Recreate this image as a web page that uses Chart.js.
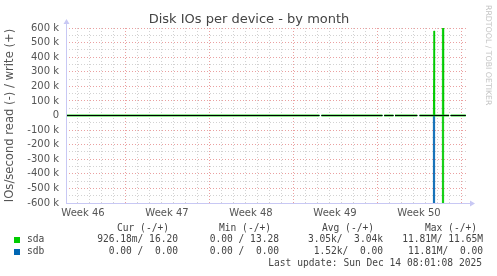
<!DOCTYPE html>
<html>
<head>
<meta charset="utf-8">
<script src="https://cdn.jsdelivr.net/npm/chart.js@4"></script>
<style>
  html, body { margin: 0; padding: 0; background: #fff; }
  #wrap { width: 497px; height: 276px; }
</style>
</head>
<body>
<div id="wrap"><canvas id="chart" width="497" height="276"></canvas></div>
<script>
// x = days since Mon Nov 10 2025 00:00 (start of week 46)
const days     = [2.1, 23.2, 23.29, 23.37, 28.45, 28.52, 28.6, 29.37, 29.44, 29.5, 31.35, 31.44, 31.55, 32.7, 32.75, 32.8, 33.45, 33.5, 33.55, 34.0, 34.07, 34.14, 35.4];
const sdaRead  = [3000, 3000, null, 3000, 3000, null, 3000, 3000, null, 3000, 3000, null, 3000, 3000, 0, 3000, 3000, 11810000, 3000, 3000, null, 3000, 3000];
const sdaWrite = [3000, 3000, null, 3000, 3000, null, 3000, 3000, null, 3000, 3000, null, 3000, 3000, 580000, 3000, 3000, 11650000, 3000, 3000, null, 3000, 3000];
const sdbRead  = [0, 0, null, 0, 0, null, 0, 0, null, 0, 0, null, 0, 0, 11810000, 0, 0, 0, 0, 0, null, 0, 0];
const sdbWrite = [0, 0, null, 0, 0, null, 0, 0, null, 0, 0, null, 0, 0, 0, 0, 0, 0, 0, 0, null, 0, 0];

const weekLabels = ['Week 46', 'Week 47', 'Week 48', 'Week 49', 'Week 50'];
const weekMid    = [3.5, 10.5, 17.5, 24.5, 31.5];

const legendHead = ['Cur (-/+)', 'Min (-/+)', 'Avg (-/+)', 'Max (-/+)'];
const legendRows = [
  { name: 'sda', color: '#00cc00', cells: ['926.18m/ 16.20', '0.00 / 13.28', '3.05k/  3.04k', '11.81M/ 11.65M'] },
  { name: 'sdb', color: '#0066b3', cells: ['0.00 /  0.00', '0.00 /  0.00', '1.52k/  0.00', '11.81M/  0.00'] }
];
const lastUpdate = 'Last update: Sun Dec 14 08:01:08 2025';

const GREEN = '#00cc00';
const BLUE = '#0066b3';
const MAJOR = 'rgba(225,120,120,0.7)';
const MINOR = 'rgba(195,195,195,0.75)';
const AXIS = '#c8c8f4';

function pts(arr, sign) {
  return days.map((d, i) => ({ x: d, y: arr[i] === null ? null : sign * arr[i] }));
}

// daily grid positions + week label positions
const xTicks = [];
for (let d = 3; d <= 35; d++) xTicks.push(d);
weekMid.forEach(v => xTicks.push(v));
xTicks.sort((a, b) => a - b);

const decor = {
  id: 'decor',
  afterDatasetsDraw(chart) {
    const { ctx, chartArea: a, scales } = chart;
    const y0 = Math.round(scales.y.getPixelForValue(0)) - 0.5;
    ctx.save();
    // black zero rule, broken where data is missing
    ctx.strokeStyle = '#000';
    ctx.lineWidth = 1;
    ctx.beginPath();
    for (let i = 0; i < days.length - 1; i++) {
      if (sdaWrite[i] === null || sdaWrite[i + 1] === null) continue;
      ctx.moveTo(scales.x.getPixelForValue(days[i]), y0);
      ctx.lineTo(scales.x.getPixelForValue(days[i + 1]), y0);
    }
    ctx.stroke();
    // axes with arrows
    ctx.strokeStyle = AXIS;
    ctx.fillStyle = AXIS;
    ctx.beginPath();
    ctx.moveTo(a.left + 0.5, a.bottom + 0.5);
    ctx.lineTo(a.left + 0.5, a.top - 6);
    ctx.moveTo(a.left, a.bottom + 0.5);
    ctx.lineTo(a.right + 4, a.bottom + 0.5);
    ctx.stroke();
    ctx.beginPath();
    ctx.moveTo(a.left - 2.5, a.top - 4);
    ctx.lineTo(a.left + 3.5, a.top - 4);
    ctx.lineTo(a.left + 0.5, a.top - 9);
    ctx.fill();
    ctx.beginPath();
    ctx.moveTo(a.right + 3, a.bottom - 2.5);
    ctx.lineTo(a.right + 3, a.bottom + 3.5);
    ctx.lineTo(a.right + 8, a.bottom + 0.5);
    ctx.fill();
    ctx.restore();
  },
  afterDraw(chart) {
    const ctx = chart.ctx;
    ctx.save();
    // title
    ctx.fillStyle = '#444';
    ctx.font = '13px "DejaVu Sans"';
    ctx.textAlign = 'center';
    ctx.textBaseline = 'alphabetic';
    ctx.fillText('Disk IOs per device - by month', 249, 23);
    // side credit
    ctx.save();
    ctx.translate(488, 5);
    ctx.rotate(Math.PI / 2);
    ctx.fillStyle = '#c4c4c4';
    ctx.font = '7.8px "DejaVu Sans"';
    ctx.textAlign = 'left';
    ctx.textBaseline = 'middle';
    ctx.fillText('RRDTOOL / TOBI OETIKER', 0, 0);
    ctx.restore();
    // legend
    ctx.font = '9.6px "DejaVu Sans Mono"';
    ctx.fillStyle = '#444';
    ctx.textAlign = 'right';
    const rights = [169, 271, 374, 477];
    legendHead.forEach((t, i) => ctx.fillText(t, rights[i], 231));
    const cellRights = [178, 279, 383, 483];
    legendRows.forEach((r, j) => {
      const by = 242 + j * 12;
      ctx.fillStyle = r.color;
      ctx.fillRect(14, by - 5, 6, 6);
      ctx.fillStyle = '#444';
      ctx.textAlign = 'left';
      ctx.fillText(r.name, 27, by);
      ctx.textAlign = 'right';
      r.cells.forEach((c, i) => ctx.fillText(c, cellRights[i], by));
    });
    ctx.fillText(lastUpdate, 482, 266);
    ctx.restore();
  }
};

new Chart(document.getElementById('chart'), {
  type: 'line',
  data: {
    datasets: [
      { label: 'sda read', data: pts(sdaRead, -1), borderColor: GREEN, order: 0 },
      { label: 'sda write', data: pts(sdaWrite, 1), borderColor: GREEN, order: 0 },
      { label: 'sdb read', data: pts(sdbRead, -1), borderColor: BLUE, order: 1 },
      { label: 'sdb write', data: pts(sdbWrite, 1), borderColor: BLUE, order: 2 }
    ]
  },
  options: {
    responsive: false,
    animation: false,
    devicePixelRatio: 1,
    spanGaps: false,
    layout: { padding: { top: 28, right: 30, left: 0, bottom: 0 } },
    elements: {
      point: { radius: 0 },
      line: { borderWidth: 1, tension: 0 }
    },
    plugins: {
      legend: { display: false },
      title: { display: false },
      tooltip: { enabled: false }
    },
    scales: {
      x: {
        type: 'linear',
        min: 2.083,
        max: 35.5,
        afterFit(scale) { scale.height = 73; },
        afterBuildTicks(scale) { scale.ticks = xTicks.map(v => ({ value: v })); },
        border: { display: false, dash: [1, 2] },
        grid: {
          drawTicks: false,
          color(c) {
            const v = c.tick ? c.tick.value : 0;
            if (!Number.isInteger(v)) return 'rgba(0,0,0,0)';
            return v % 7 === 0 ? MAJOR : MINOR;
          }
        },
        ticks: {
          autoSkip: false,
          maxRotation: 0,
          padding: 4,
          color: '#555',
          font: { family: 'DejaVu Sans', size: 10 },
          callback(v) {
            const i = weekMid.indexOf(v);
            return i >= 0 ? weekLabels[i] : '';
          }
        }
      },
      y: {
        min: -600000,
        max: 600000,
        afterFit(scale) { scale.width = 66; },
        border: { display: false, dash: [1, 2] },
        grid: {
          drawTicks: false,
          color(c) {
            const v = c.tick ? c.tick.value : 0;
            return v % 100000 === 0 ? MAJOR : MINOR;
          }
        },
        title: {
          display: true,
          text: 'IOs/second read (-) / write (+)',
          color: '#555',
          font: { family: 'DejaVu Sans', size: 11.6 },
          padding: { top: 3, bottom: 4 }
        },
        ticks: {
          autoSkip: false,
          stepSize: 50000,
          padding: 7,
          color: '#555',
          font: { family: 'DejaVu Sans', size: 10 },
          callback(v) {
            if (v % 100000 !== 0) return '';
            if (v === 0) return '0';
            return (v / 1000) + ' k';
          }
        }
      }
    }
  },
  plugins: [decor]
});
</script>
</body>
</html>
